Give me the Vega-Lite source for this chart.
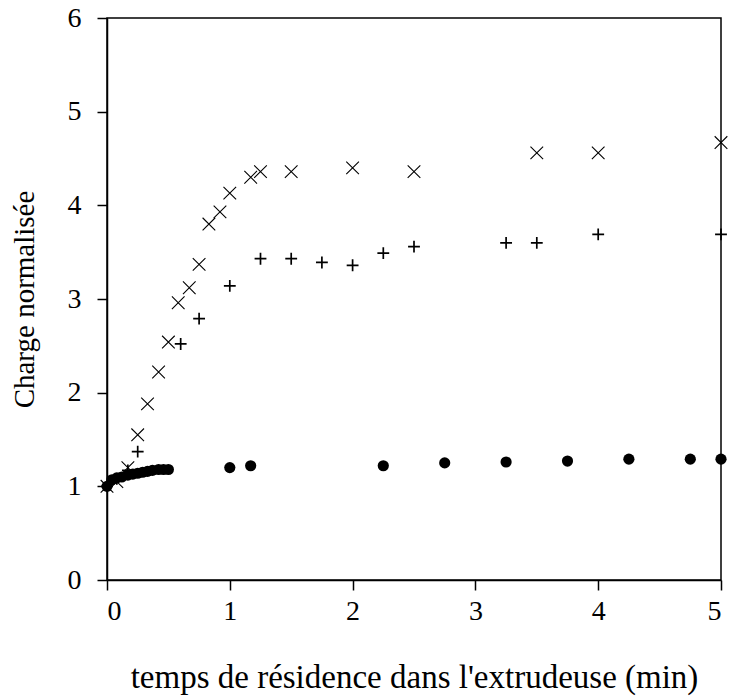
{
  "$schema": "https://vega.github.io/schema/vega-lite/v6.json",
  "autosize": "none",
  "width": 614,
  "height": 562,
  "padding": {"left": 107, "top": 18, "right": 12, "bottom": 119},
  "background": "white",
  "config": {
    "view": {"stroke": "black", "strokeWidth": 1.5},
    "axis": {
      "domainColor": "black", "domainWidth": 1.5, "tickColor": "black", "tickWidth": 1.5,
      "tickSize": 10, "grid": false, "labelFont": "Liberation Serif", "labelFontSize": 28,
      "labelColor": "black", "titleFont": "Liberation Serif", "titleFontSize": 29,
      "titleFontWeight": "normal", "titleColor": "black"
    }
  },
  "datasets": {
    "croix": [
      {"t": 0.0, "c": 1.0}, {"t": 0.08, "c": 1.05}, {"t": 0.17, "c": 1.2}, {"t": 0.25, "c": 1.55},
      {"t": 0.33, "c": 1.88}, {"t": 0.42, "c": 2.22}, {"t": 0.5, "c": 2.54}, {"t": 0.58, "c": 2.96},
      {"t": 0.67, "c": 3.12}, {"t": 0.75, "c": 3.37}, {"t": 0.83, "c": 3.8}, {"t": 0.92, "c": 3.93},
      {"t": 1.0, "c": 4.13}, {"t": 1.17, "c": 4.3}, {"t": 1.25, "c": 4.36}, {"t": 1.5, "c": 4.36},
      {"t": 2.0, "c": 4.4}, {"t": 2.5, "c": 4.36}, {"t": 3.5, "c": 4.56}, {"t": 4.0, "c": 4.56},
      {"t": 5.0, "c": 4.67}
    ],
    "plus": [
      {"t": 0.0, "c": 1.0}, {"t": 0.08, "c": 1.08}, {"t": 0.17, "c": 1.17}, {"t": 0.25, "c": 1.37},
      {"t": 0.6, "c": 2.52}, {"t": 0.75, "c": 2.79}, {"t": 1.0, "c": 3.14}, {"t": 1.25, "c": 3.43},
      {"t": 1.5, "c": 3.43}, {"t": 1.75, "c": 3.39}, {"t": 2.0, "c": 3.36}, {"t": 2.25, "c": 3.49},
      {"t": 2.5, "c": 3.56}, {"t": 3.25, "c": 3.6}, {"t": 3.5, "c": 3.6}, {"t": 4.0, "c": 3.69},
      {"t": 5.0, "c": 3.69}
    ],
    "points": [
      {"t": 0.0, "c": 1.0}, {"t": 0.04, "c": 1.07}, {"t": 0.08, "c": 1.09}, {"t": 0.12, "c": 1.1},
      {"t": 0.17, "c": 1.12}, {"t": 0.21, "c": 1.13}, {"t": 0.25, "c": 1.14}, {"t": 0.29, "c": 1.15},
      {"t": 0.33, "c": 1.16}, {"t": 0.37, "c": 1.17}, {"t": 0.42, "c": 1.18}, {"t": 0.46, "c": 1.18},
      {"t": 0.5, "c": 1.18}, {"t": 1.0, "c": 1.2}, {"t": 1.17, "c": 1.22}, {"t": 2.25, "c": 1.22},
      {"t": 2.75, "c": 1.25}, {"t": 3.25, "c": 1.26}, {"t": 3.75, "c": 1.27}, {"t": 4.25, "c": 1.29},
      {"t": 4.75, "c": 1.29}, {"t": 5.0, "c": 1.29}
    ]
  },
  "encoding": {
    "x": {
      "field": "t", "type": "quantitative",
      "scale": {"domain": [0, 5], "nice": false, "zero": false},
      "axis": {"values": [0, 1, 2, 3, 4, 5], "title": "temps de résidence dans l'extrudeuse (min)", "titleFontSize": 33, "labelPadding": 7, "titlePadding": 36}
    },
    "y": {
      "field": "c", "type": "quantitative",
      "scale": {"domain": [0, 6], "nice": false},
      "axis": {"values": [0, 1, 2, 3, 4, 5, 6], "title": "Charge normalisée", "labelPadding": 16, "titlePadding": 28}
    }
  },
  "layer": [
    {
      "data": {"name": "croix"},
      "mark": {"type": "point", "shape": "M-1,-1L1,1M-1,1L1,-1", "filled": false, "stroke": "black", "strokeWidth": 1.1, "size": 160, "opacity": 1, "clip": false}
    },
    {
      "data": {"name": "plus"},
      "mark": {"type": "point", "shape": "M-1,0L1,0M0,-1L0,1", "filled": false, "stroke": "black", "strokeWidth": 1.7, "size": 140, "opacity": 1, "clip": false}
    },
    {
      "data": {"name": "points"},
      "mark": {"type": "point", "shape": "circle", "filled": true, "color": "black", "size": 125, "opacity": 1, "clip": false}
    }
  ]
}
